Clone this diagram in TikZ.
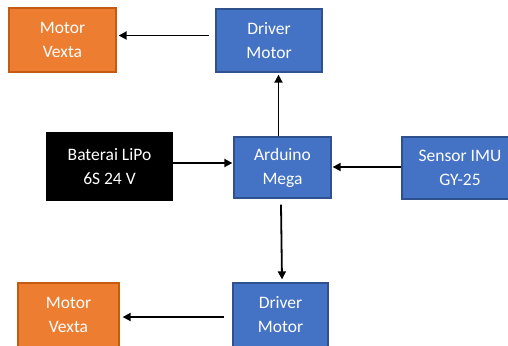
\documentclass[tikz,border=0pt]{standalone}
\usepackage{fontspec}
\setmainfont{Carlito}
\usetikzlibrary{arrows.meta,calc}
\definecolor{obox}{HTML}{ED7D31}
\definecolor{oedge}{HTML}{C55A11}
\definecolor{bbox}{HTML}{4472C4}
\definecolor{bedge}{HTML}{2F528F}
\begin{document}
\begin{tikzpicture}[x=1pt,y=-1pt,
  blk/.style={draw, line width=1.3pt, text=white, align=center, inner sep=0pt,
    font=\fontsize{17.5}{24}\selectfont},
  orangebox/.style={blk, fill=obox, draw=oedge},
  bluebox/.style={blk, fill=bbox, draw=bedge},
  blackbox/.style={blk, fill=black, draw=black},
  arr/.style={line width=1.8pt, -{Triangle[length=8pt,width=8pt]}}]
\useasboundingbox (0,0) rectangle (508,345);
\clip (0,0) rectangle (508,345);
\node[orangebox, minimum width=107pt, minimum height=64pt] (mv1) at (62.5,40) {Motor\\Vexta};
\node[bluebox, minimum width=106pt, minimum height=63pt] (dm1) at (269,40.5) {Driver\\Motor};
\node[blackbox, minimum width=125pt, minimum height=67pt] (bat) at (109.5,166.5) {Baterai LiPo\\6S 24 V};
\node[bluebox, minimum width=97pt, minimum height=61pt] (ard) at (282.5,167.5) {Arduino\\Mega};
\node[bluebox, minimum width=116pt, minimum height=62pt] (imu) at (460,168) {Sensor IMU\\GY-25};
\node[bluebox, minimum width=95pt, minimum height=64pt] (dm2) at (280.5,315) {Driver\\Motor};
\node[orangebox, minimum width=101pt, minimum height=64pt] (mv2) at (68.5,315) {Motor\\Vexta};
% Driver (top) -> Motor Vexta (top)
\draw[arr] ($(dm1.west)+(-6,-5)$) -- ($(mv1.east |- dm1.west)+(2,-5)$);
% Arduino -> Driver (top)
\draw[arr] ($(ard.north)+(-4,0)$) -- ($(ard.north |- dm1.south)+(-4,2)$);
% Baterai -> Arduino
\draw[arr] ($(bat.east)+(0,-3.5)$) -- ($(ard.west |- bat.east)+(-1,-3.5)$);
% Sensor IMU -> Arduino
\draw[arr] ($(imu.west)+(0,-1)$) -- ($(ard.east |- imu.west)+(1,-1)$);
% Arduino -> Driver (bottom)
\draw[arr] ($(ard.south)+(-1.5,6)$) -- ($(dm2.north)+(1.5,-3)$);
% Driver (bottom) -> Motor Vexta (bottom)
\draw[arr] ($(dm2.west)+(-8,2)$) -- ($(mv2.east |- dm2.west)+(3,2)$);
\end{tikzpicture}
\end{document}
